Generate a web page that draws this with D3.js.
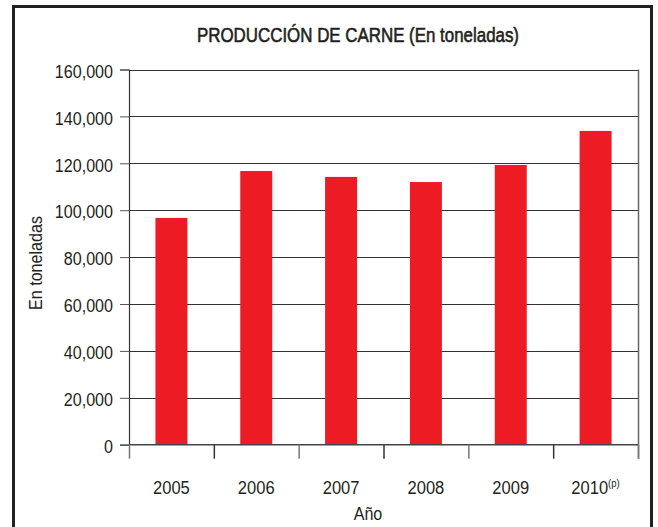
<!DOCTYPE html>
<html>
<head>
<meta charset="utf-8">
<script src="https://cdn.jsdelivr.net/npm/d3@7"></script>
<style>
body { margin: 0; background: #fff; }
svg text { font-family: "Liberation Sans", Arial, sans-serif; fill: #231f20; }
</style>
</head>
<body>
<svg id="chart"></svg>
<script>
var years = ["2005", "2006", "2007", "2008", "2009", "2010"];
var production = [96700, 116700, 114200, 112000, 119300, 133800];
var yTicks = [0, 20000, 40000, 60000, 80000, 100000, 120000, 140000, 160000];

var screen = {width: 658, height: 527};
var plot = {left: 129, right: 638, top: 69.5, bottom: 444.7};
var squeeze = 0.87; // condensed look for the labels
var fontSize = 18.5;

var svg = d3.select("#chart")
    .attr("width", screen.width)
    .attr("height", screen.height);

// outer frame (bottom edge falls off the page)
svg.append("rect")
    .attr("x", 13.5).attr("y", 6.5)
    .attr("width", 638).attr("height", 540)
    .attr("fill", "none")
    .attr("stroke", "#231f20")
    .attr("stroke-width", 3);

var xScale = d3.scaleBand()
    .domain(years)
    .range([plot.left, plot.right])
    .paddingInner(0.623)
    .paddingOuter(0.3115);

var yScale = d3.scaleLinear()
    .domain([0, 160000])
    .range([plot.bottom, plot.top]);

// grid lines
svg.append("g").selectAll("line")
    .data(yTicks.slice(1))
    .enter().append("line")
    .attr("x1", plot.left).attr("x2", plot.right)
    .attr("y1", function (d) { return Math.round(yScale(d)) + 0.5; })
    .attr("y2", function (d) { return Math.round(yScale(d)) + 0.5; })
    .attr("stroke", "#333")
    .attr("stroke-width", 1.2);

// right border of plot
svg.append("line")
    .attr("x1", plot.right + 0.5).attr("x2", plot.right + 0.5)
    .attr("y1", plot.top).attr("y2", plot.bottom + 14)
    .attr("stroke", "#666")
    .attr("stroke-width", 1.5);

// bars
svg.append("g").selectAll("rect")
    .data(production)
    .enter().append("rect")
    .attr("x", function (d, i) { return xScale(years[i]); })
    .attr("width", xScale.bandwidth())
    .attr("y", function (d) { return yScale(d); })
    .attr("height", function (d) { return yScale(0) - yScale(d); })
    .attr("fill", "#ed1c24");

// y axis
var yAxis = d3.axisLeft(yScale)
    .tickValues(yTicks)
    .tickSize(9)
    .tickPadding(7)
    .tickFormat(d3.format(","));

var yg = svg.append("g")
    .attr("transform", "translate(" + plot.left + ",0)")
    .call(yAxis);
yg.selectAll("text")
    .attr("font-size", fontSize)
    .style("font-family", null)
    .attr("x", -16 / squeeze)
    .attr("dy", "0.42em")
    .attr("transform", "scale(" + squeeze + ",1)");
yg.selectAll("line").attr("stroke", "#555");
yg.select(".domain").attr("stroke", "#333").attr("stroke-width", 1.2);

// x axis baseline
svg.append("line")
    .attr("x1", plot.left).attr("x2", plot.right)
    .attr("y1", plot.bottom).attr("y2", plot.bottom)
    .attr("stroke", "#444").attr("stroke-width", 1.5);

// category separator ticks
svg.append("g").selectAll("line")
    .data(d3.range(years.length + 1))
    .enter().append("line")
    .attr("x1", function (i) { return plot.left + i * xScale.step() + 0.5; })
    .attr("x2", function (i) { return plot.left + i * xScale.step() + 0.5; })
    .attr("y1", plot.bottom).attr("y2", plot.bottom + 14)
    .attr("stroke", function (i) { return i % 2 ? "#333" : "#777"; })
    .attr("stroke-width", 1.5);

// x labels
var xl = svg.append("g").selectAll("text")
    .data(years)
    .enter().append("text")
    .attr("transform", function (d) {
        return "translate(" + (xScale(d) + xScale.bandwidth() / 2) + ",494) scale(" + squeeze + ",1)";
    })
    .attr("text-anchor", "middle")
    .attr("font-size", 19)
    .text(function (d) { return d; });

xl.filter(function (d) { return d === "2010"; })
    .append("tspan")
    .attr("font-size", 11)
    .attr("dy", -7)
    .text("(p)");

// title
svg.append("text")
    .attr("x", 358).attr("y", 41.5)
    .attr("text-anchor", "middle")
    .attr("font-size", 20.5)
    .attr("textLength", 322)
    .attr("lengthAdjust", "spacingAndGlyphs")
    .attr("stroke", "#231f20")
    .attr("stroke-width", 0.6)
    .text("PRODUCCIÓN DE CARNE (En toneladas)");

// axis titles
svg.append("text")
    .attr("transform", "translate(42,263) rotate(-90) scale(" + squeeze + ",1)")
    .attr("text-anchor", "middle")
    .attr("font-size", fontSize)
    .text("En toneladas");

svg.append("text")
    .attr("transform", "translate(368,520) scale(" + squeeze + ",1)")
    .attr("text-anchor", "middle")
    .attr("font-size", fontSize)
    .text("Año");
</script>
</body>
</html>
